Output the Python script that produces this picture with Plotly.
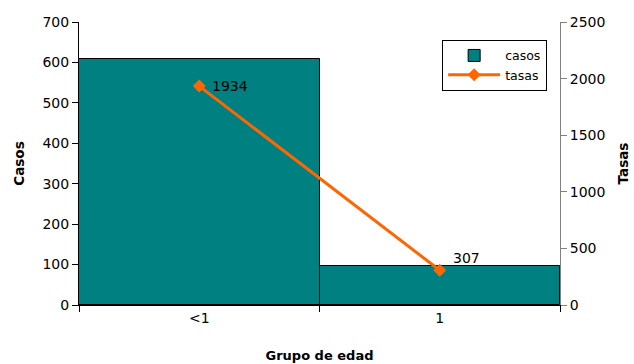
import plotly.graph_objects as go

categorias = ["<1", "1"]
casos = [608, 96]
tasas = [1934, 307]

FONT = "DejaVu Sans, Liberation Sans, Arial, sans-serif"

fig = go.Figure()
fig.add_trace(go.Bar(
    x=[0, 1], y=casos, name="casos", width=1,
    marker=dict(color="#008080", line=dict(color="#000000", width=1)),
    yaxis="y",
))
fig.add_trace(go.Scatter(
    x=[0, 1], y=tasas, name="tasas", mode="lines+markers",
    line=dict(color="#FF6600", width=3),
    marker=dict(symbol="diamond", size=10, color="#FF6600"),
    yaxis="y2",
))

for i, v in enumerate(tasas):
    fig.add_annotation(
        x=i, y=v, xref="x", yref="y2", text=str(v), showarrow=False,
        xanchor="left", yanchor="middle", xshift=11, yshift=0 if i == 0 else 12,
        font=dict(family=FONT, size=14, color="#000000"),
    )

fig.update_layout(
    width=634, height=364,
    margin=dict(l=79, r=74, t=22, b=59, autoexpand=False),
    paper_bgcolor="white", plot_bgcolor="white",
    font=dict(family=FONT, size=14, color="#000000"),
    bargap=0,
    showlegend=True,
    legend=dict(x=0.755, y=0.937, xanchor="left", yanchor="top",
                bordercolor="#000000", borderwidth=1, bgcolor="white",
                font=dict(family=FONT, size=12.5), tracegroupgap=0,
                itemwidth=52),
    xaxis=dict(
        range=[-0.5, 1.5], tickvals=[0, 1], ticktext=categorias,
        ticks="", showgrid=False, zeroline=False, automargin=False,
        showline=True, linecolor="#000000", linewidth=1,
        minor=dict(tickvals=[-0.5, 0.5, 1.5], ticks="outside", ticklen=6,
                   tickcolor="#000000", showgrid=False),
        title=dict(text="<b>Grupo de edad</b>", font=dict(size=13), standoff=26),
        tickfont=dict(size=14),
    ),
    yaxis=dict(
        range=[0, 700], tickvals=[0, 100, 200, 300, 400, 500, 600, 700],
        ticks="outside", ticklen=6, tickcolor="#000000",
        showgrid=False, zeroline=False, automargin=False,
        showline=True, linecolor="#000000", linewidth=1,
        title=dict(text="<b>Casos</b>", font=dict(size=13.5), standoff=14),
        tickfont=dict(size=14),
    ),
    yaxis2=dict(
        range=[0, 2500], tickvals=[0, 500, 1000, 1500, 2000, 2500],
        overlaying="y", side="right",
        ticks="outside", ticklen=6, tickcolor="#808080",
        showgrid=False, zeroline=False, automargin=False,
        showline=True, linecolor="#808080", linewidth=1,
        title=dict(text="<b>Tasas</b>", font=dict(size=13.5), standoff=14),
        tickfont=dict(size=14),
    ),
)

fig.write_html("out.html")
